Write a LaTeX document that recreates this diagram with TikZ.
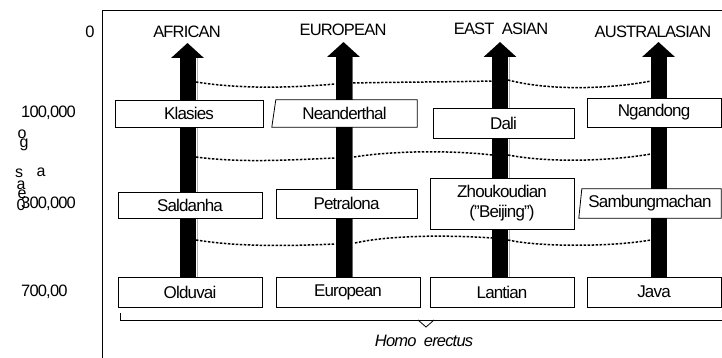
\documentclass[tikz,border=0pt]{standalone}
\usepackage{fontspec}
\setmainfont{Liberation Sans}[LetterSpace=-5]
\usepackage{tikz}
\usetikzlibrary{
    arrows.meta,
    positioning,
    calc,
    decorations.pathreplacing
}
\tikzset{
    sitebox/.style={
        draw,
        rectangle,
        fill=white,
        line width=0.8pt,
        inner sep=0pt,
        align=center,
        font=\fontsize{17}{20}\selectfont
    },
    sitebare/.style={
        rectangle,
        fill=white,
        inner sep=0pt,
        align=center,
        font=\fontsize{17}{20}\selectfont
    },
    hdr/.style={
        font=\fontsize{16.5}{18}\selectfont
    },
    agelab/.style={
        anchor=west,
        inner sep=0pt,
        font=\fontsize{16.5}{18}\selectfont
    },
    dotline/.style={
        line width=1.5pt,
        dash pattern=on 2.5pt off 1.5pt
    }
}

\begin{document}
\begin{tikzpicture}[
    x=1pt, y=-1pt,
    lineage/.style={
        line width=16pt,
        -{Triangle[width=32pt,length=15pt]}
    },
    edge/.style={
        line width=1pt,
        draw=gray!60
    }
]
\useasboundingbox (0,0) rectangle (722,358);

% frame
\draw[line width=0.8pt] (102,358) -- (102,10) -- (722,10);

% ages
\node[inner sep=0pt, font=\fontsize{16.5}{18}\selectfont] (t0) at (90,32) {0};
\node[agelab] (t1) at (21,113) {100,000};
\node[agelab] (t3) at (21,204) {300,000};
\node[agelab] (t7) at (21,292) {700,00};
\foreach \ch/\px/\py [count=\i] in {o/22/134, g/24/145, s/19/173, a/41/172, a/21/185, e/22/194, 0/21/205}
    \node[inner sep=0pt, font=\fontsize{16}{17}\selectfont] (v\i) at (\px,\py) {\ch};

% headers
\node[hdr] (hafr) at (187,32) {AFRICAN};
\node[hdr] (heur) at (343,30) {EUROPEAN};
\node[hdr] (heas) at (501,29) {EAST\ \ ASIAN};
\node[hdr] (haus) at (653,32) {AUSTRALASIAN};

% lineages
\coordinate (afrb) at (187.5,277);
\coordinate (eurb) at (343.5,277);
\coordinate (easb) at (500,277);
\coordinate (ausb) at (658.5,277);
\draw[edge] (197,57) -- (197,277);
\draw[edge, draw=gray!80!black] (352.5,55) -- (352.5,277);
\draw[edge] (509,57) -- (509,277);
\draw[lineage] (afrb) -- (187.5,43);
\draw[lineage] (eurb) -- (343.5,42);
\draw[lineage] (easb) -- (500,42);
\draw[lineage] (ausb) -- (658.5,42);

% links between lineages
\coordinate (a1) at (196,82);  \coordinate (e1l) at (335,84);
\coordinate (e1r) at (353,83); \coordinate (s1l) at (492,81);
\coordinate (s1r) at (508,80); \coordinate (u1) at (651,81);
\coordinate (a2) at (196,157); \coordinate (e2l) at (335,158);
\coordinate (e2r) at (354,157); \coordinate (s2l) at (492,155);
\coordinate (s2r) at (508,155); \coordinate (u2) at (651,154);
\coordinate (a3) at (196,240); \coordinate (e3l) at (335,244);
\coordinate (e3r) at (355,243); \coordinate (s3l) at (492,238);
\coordinate (s3r) at (508,240); \coordinate (u3) at (651,240);

\draw[dotline] (a1) .. controls (240,89) and (290,88) .. (e1l);
\draw[dotline] (e1r) .. controls (400,82) and (450,82) .. (s1l);
\draw[dotline] (s1r) .. controls (550,91) and (610,89) .. (u1);
\draw[dotline] (a2) .. controls (240,163) and (290,160) .. (e2l);
\draw[dotline] (e2r) .. controls (390,151) and (450,150) .. (s2l);
\draw[dotline] (s2r) .. controls (550,163) and (610,161) .. (u2);
\draw[dotline] (a3) .. controls (240,247) and (290,246) .. (e3l);
\draw[dotline] (e3r) .. controls (390,235) and (450,235) .. (s3l);
\draw[dotline] (s3r) .. controls (540,247) and (610,247) .. (u3);

% fossil sites
\node[sitebox, minimum width=148pt, minimum height=27pt] (kla) at (189,113.5) {Klasies};
\node[sitebare, minimum width=145pt, minimum height=27pt] (nea) at (344.5,113.5) {Neanderthal};
\draw[line width=0.8pt] ([xshift=4pt]nea.north west) -- (nea.north east) -- (nea.south east) -- (nea.south west) -- cycle;
\node[sitebox, minimum width=141pt, minimum height=30pt] (dal) at (503.5,123) {Dali};
\node[sitebox, minimum width=134pt, minimum height=29pt] (nga) at (654,112.5) {Ngandong};

\node[sitebox, minimum width=144pt, minimum height=26pt] (sal) at (190,205) {Saldanha};
\node[sitebox, minimum width=141pt, minimum height=29pt] (pet) at (346.5,203.5) {Petralona};
\node[sitebox, minimum width=144pt, minimum height=51pt] (zho) at (502,203.5) {Zhoukoudian\\("Beijing")};
\node[sitebare, minimum width=142pt, minimum height=29pt] (sam) at (650,203.5) {Sambungmachan};
\draw[line width=0.8pt] ([xshift=3pt]sam.north west) -- (sam.north east) -- (sam.south east) -- (sam.south west) -- cycle;

\node[sitebox, minimum width=144pt, minimum height=30pt] (old) at (190,292) {Olduvai};
\node[sitebox, minimum width=144pt, minimum height=30pt] (eur) at (348,292) {European};
\node[sitebox, minimum width=144pt, minimum height=30pt] (lan) at (502,292) {Lantian};
\node[sitebox, minimum width=134pt, minimum height=30pt] (jav) at (654,292) {Java};

% erectus brace
\coordinate (bl) at (120,313);
\coordinate (br) at (722,320);
\draw[line width=0.8pt] (bl) |- (br);
\draw[line width=0.8pt] (418,320) -- (426,327) -- (434,320);
\node[font=\fontsize{16.5}{18}\selectfont\itshape] (her) at (424,341) {Homo\ \ erectus};

\end{tikzpicture}
\end{document}
